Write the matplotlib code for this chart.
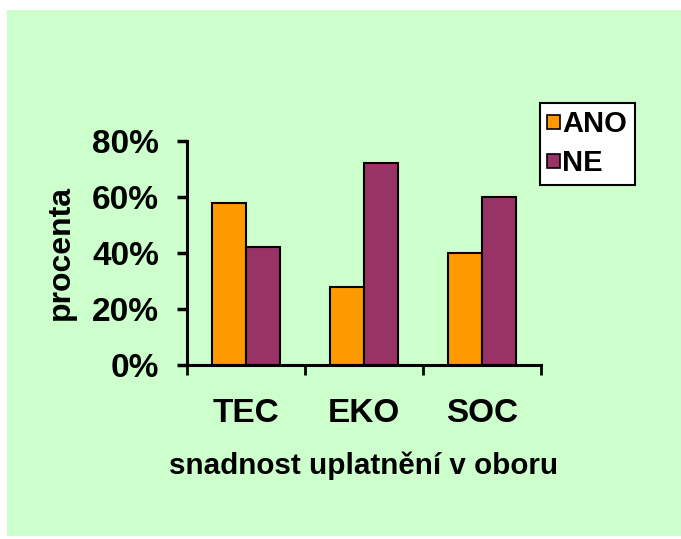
import matplotlib
matplotlib.use("Agg")
import matplotlib.pyplot as plt
import numpy as np
from matplotlib.patches import Rectangle, Patch
from matplotlib.ticker import FixedLocator, PercentFormatter

categories = ["TEC", "EKO", "SOC"]
series_names = ["ANO", "NE"]
ano = [58, 28, 40]
ne = [42, 72, 60]
yticks = [0, 20, 40, 60, 80]
x_title = "snadnost uplatnění v oboru"
y_title = "procenta"

colors = ["#FF9900", "#993366"]
W, H = 681, 539
plt.rcParams['font.family'] = ['Liberation Sans', 'DejaVu Sans']
plt.rcParams['font.weight'] = 'bold'

fig = plt.figure(figsize=(W / 100, H / 100), dpi=100)
fig.patch.set_facecolor("white")
bg = Rectangle((7 / W, 1 - 536 / H), (W - 7) / W, (536 - 10) / H,
               transform=fig.transFigure, facecolor="#CCFFCC",
               edgecolor="none", zorder=-10)
fig.patches.append(bg)

left, right = 187 / W, 540.7 / W
bottom, top = 1 - 365 / H, 1 - 141 / H
ax = fig.add_axes([left, bottom, right - left, top - bottom])
ax.set_facecolor("none")
ax.set_zorder(1)

x = np.arange(len(categories))
bw = 0.288
ax.bar(x - bw / 2, ano, bw, color=colors[0], edgecolor="black", linewidth=1.5, label=series_names[0], zorder=2)
ax.bar(x + bw / 2, ne, bw, color=colors[1], edgecolor="black", linewidth=1.5, label=series_names[1], zorder=2)

ax.set_xlim(-0.5, len(categories) - 0.5)
ax.set_ylim(0, 80)
ax.set_yticks(yticks)
ax.yaxis.set_major_formatter(PercentFormatter(decimals=0))
ax.set_xticks(x)
ax.set_xticklabels(categories)
ax.xaxis.set_minor_locator(FixedLocator(np.arange(len(categories) + 1) - 0.5))

for s in ["top", "right"]:
    ax.spines[s].set_visible(False)
for s in ["left", "bottom"]:
    ax.spines[s].set_linewidth(2.2)
    ax.spines[s].set_color("black")

ax.tick_params(axis="y", which="major", direction="out", length=7, width=2.5, pad=13, labelsize=24)
ax.tick_params(axis="x", which="major", length=0, pad=24, labelsize=24)
ax.tick_params(axis="x", which="minor", direction="out", length=7, width=2)
for lbl in ax.get_xticklabels() + ax.get_yticklabels():
    lbl.set_fontweight("bold")

ax.set_xlabel(x_title, fontsize=21.3, fontweight="bold", labelpad=16)
ax.set_ylabel(y_title, fontsize=23, fontweight="bold", labelpad=12)

handles = [Patch(facecolor=c, edgecolor="black", linewidth=1.2) for c in colors]
leg = fig.legend(handles, series_names, loc="upper left",
                 bbox_to_anchor=(540 / W, 1 - 103 / H), bbox_transform=fig.transFigure,
                 borderaxespad=0, prop={'weight': 'bold', 'size': 21},
                 handlelength=0.42, handleheight=0.4, handletextpad=0.1,
                 labelspacing=0.38, borderpad=0.25, frameon=True, fancybox=False,
                 framealpha=1)
leg.get_frame().set_edgecolor("black")
leg.get_frame().set_linewidth(1.5)
leg.get_frame().set_facecolor("white")
leg.set_zorder(5)

fig.savefig("out.png", dpi=100, facecolor="white")
